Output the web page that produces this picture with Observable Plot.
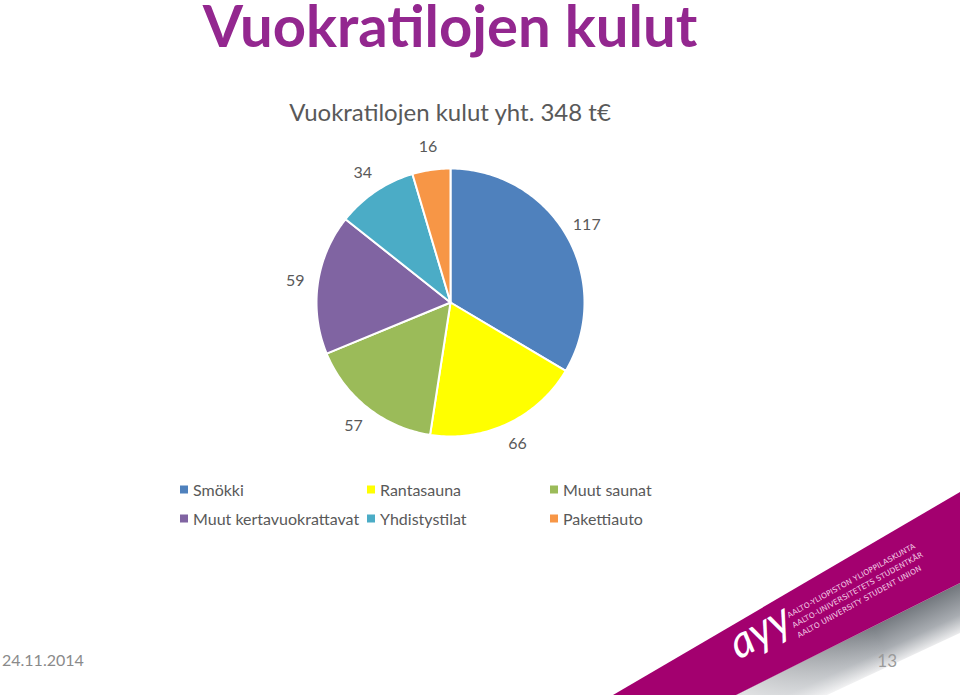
<!DOCTYPE html>
<html>
<head>
<meta charset="utf-8">
<script src="https://cdn.jsdelivr.net/npm/d3@7"></script>
<script src="https://cdn.jsdelivr.net/npm/@observablehq/plot@0.6"></script>
<style>
  html, body { margin: 0; padding: 0; background: #fff; }
  #page { position: relative; width: 960px; height: 695px; overflow: hidden; font-family: Lato, "Open Sans", sans-serif; }
  #deco { position: absolute; left: 0; top: 0; }
  #chart { position: absolute; left: 0; top: 130px; }
  .legend { position: absolute; left: 0; top: 0; width: 960px; height: 695px; pointer-events: none; }
  .item { position: absolute; display: flex; align-items: center; font-size: 16px; color: #595959; white-space: nowrap; transform: translateY(-50%); }
  .sw { width: 8px; height: 8px; margin-right: 5px; }
</style>
</head>
<body>
<div id="page">
  <svg id="deco" width="960" height="695">
    <defs>
      <linearGradient id="shadow" gradientUnits="userSpaceOnUse" x1="880" y1="622" x2="899" y2="663">
        <stop offset="0" stop-color="#74797f"/>
        <stop offset="0.6" stop-color="#a9adb2"/>
        <stop offset="1" stop-color="#f2f2f3"/>
      </linearGradient>
      <linearGradient id="fade" gradientUnits="userSpaceOnUse" x1="750" y1="705" x2="880" y2="640">
        <stop offset="0" stop-color="#ffffff" stop-opacity="0.75"/>
        <stop offset="1" stop-color="#ffffff" stop-opacity="0"/>
      </linearGradient>
    </defs>
    <polygon points="736,695 960,583 960,633 827,695" fill="url(#shadow)"/>
    <polygon points="736,695 960,583 960,633 827,695" fill="url(#fade)"/>
    <polygon points="613,695 960,492 960,583 736,695" fill="#A3006F"/>
    <text x="739" y="660" transform="rotate(-30 739 660)" font-family="Lato" font-style="italic" font-size="44" fill="#fff">ayy</text>
    <g font-family="'DejaVu Sans'" font-size="7.5" fill="#f3cfe6" letter-spacing="0.15">
      <text x="789" y="618" transform="rotate(-29 789 618)">AALTO-YLIOPISTON YLIOPPILASKUNTA</text>
      <text x="794" y="628" transform="rotate(-29 794 628)">AALTO-UNIVERSITETETS STUDENTKÅR</text>
      <text x="799" y="638" transform="rotate(-29 799 638)">AALTO UNIVERSITY STUDENT UNION</text>
    </g>
    <text x="450" y="47" text-anchor="middle" font-family="Lato" font-weight="bold" font-size="58" fill="#93278F">Vuokratilojen kulut</text>
    <text x="450" y="121" text-anchor="middle" font-family="Lato" font-size="24" fill="#595959">Vuokratilojen kulut yht. 348 t€</text>
    <text x="2" y="666" font-family="Lato" font-size="16" fill="#8a8a8a">24.11.2014</text>
    <text x="897" y="667" text-anchor="end" font-family="Lato" font-size="17" fill="#9a9a9a">13</text>
  </svg>
  <div id="chart"></div>
  <div class="legend" id="legend"></div>
</div>
<script>
const categories = ["Smökki", "Rantasauna", "Muut saunat", "Muut kertavuokrattavat", "Yhdistystilat", "Pakettiauto"];
const values = [117, 66, 57, 59, 34, 16];
const colors = ["#4F81BD", "#FFFF00", "#9BBB59", "#8064A2", "#4BACC6", "#F79646"];

// pie geometry (unit radius), angles from d3.pie
const Rpx = 134;          // pixel radius of the pie
const labelR = 1.17;      // label distance in radii
const arcs = d3.pie().sort(null).value(d => d)(values);

const sliceRows = [];
arcs.forEach((a, i) => {
  const n = Math.max(2, Math.ceil((a.endAngle - a.startAngle) / (Math.PI / 180)));
  sliceRows.push({cat: categories[i], x: 0, y: 0});
  for (let k = 0; k <= n; k++) {
    const t = a.startAngle + (a.endAngle - a.startAngle) * k / n;
    sliceRows.push({cat: categories[i], x: Math.sin(t), y: -Math.cos(t)});
  }
  sliceRows.push({cat: categories[i], x: 0, y: 0});
});
const labelRows = arcs.map((a, i) => {
  const m = (a.startAngle + a.endAngle) / 2;
  return {cat: categories[i], v: values[i], x: labelR * Math.sin(m), y: -labelR * Math.cos(m)};
});

const W = 960, H = 340, cx = 450, cy = 172;
const chart = Plot.plot({
  width: W,
  height: H,
  margin: 0,
  x: {domain: [-cx / Rpx, (W - cx) / Rpx], axis: null},
  y: {domain: [-cy / Rpx, (H - cy) / Rpx], range: [0, H], axis: null},
  color: {domain: categories, range: colors},
  style: {background: "transparent", fontFamily: "Lato, 'Open Sans', sans-serif"},
  marks: [
    Plot.line(sliceRows, {x: "x", y: "y", z: "cat", fill: "cat", stroke: "white", strokeWidth: 2, strokeLinejoin: "round", curve: "linear"}),
    Plot.text(labelRows, {x: "x", y: "y", text: d => String(d.v), fill: "#595959", fontSize: 16})
  ]
});
document.getElementById("chart").appendChild(chart);

// legend
const legendPos = [[180, 489], [367, 489], [550, 489], [180, 518], [367, 518], [550, 518]];
const leg = document.getElementById("legend");
categories.forEach((c, i) => {
  const d = document.createElement("div");
  d.className = "item";
  d.style.left = legendPos[i][0] + "px";
  d.style.top = legendPos[i][1] + "px";
  const s = document.createElement("span");
  s.className = "sw";
  s.style.background = colors[i];
  d.appendChild(s);
  d.appendChild(document.createTextNode(c));
  leg.appendChild(d);
});
</script>
</body>
</html>
